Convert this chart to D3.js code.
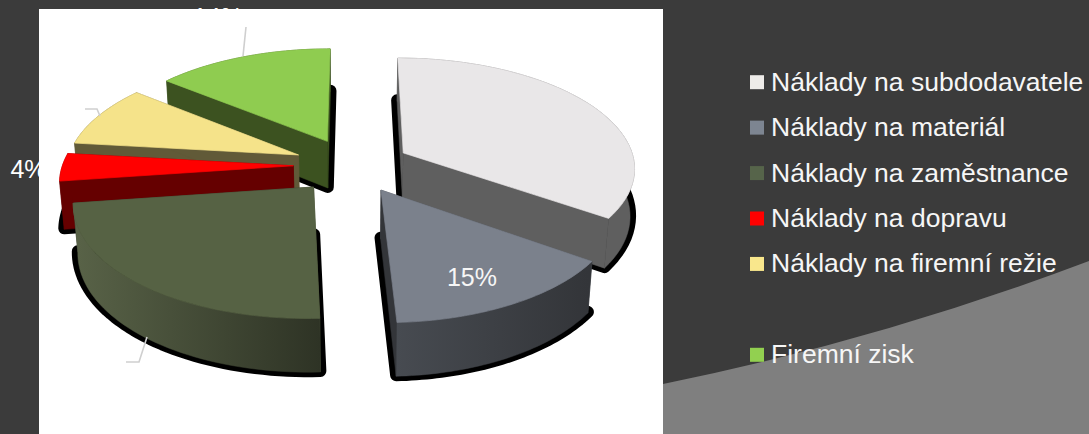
<!DOCTYPE html>
<html>
<head>
<meta charset="utf-8">
<style>
  html, body { margin: 0; padding: 0; background: #3b3b3b; overflow: hidden; }
  text { font-family: "Liberation Sans", Arial, sans-serif; fill: #f6f6f6; }
</style>
<script src="https://cdn.jsdelivr.net/npm/d3@7"></script>
</head>
<body>
<svg id="chart" width="1089" height="434"></svg>
<script>
var categories = ["Náklady na subdodavatele", "Náklady na materiál", "Náklady na zaměstnance",
                  "Náklady na dopravu", "Náklady na firemní režie", "Firemní zisk"];
var values     = [34.7, 14.6, 23.5, 4.0, 9.0, 14.2];
var legendRows = [0, 1, 2, 3, 4, 6];   // the source legend has an empty row before the last one

var topColors   = ["#e9e7e8", "#7b818c", "#566244", "#ff0000", "#f5e38a", "#8fcc50"];
var swatches    = ["#eeece9", "#7d8591", "#56644a", "#ff0000", "#f9e78c", "#92d050"];
var wallLeft    = ["#5f5f5f", "#474b51", "#586247", "#650000", "#615a38", "#3c5220"];
var wallRight   = ["#5f5f5f", "#333539", "#2e3325", "#650000", "#615a38", "#3c5220"];
var drawOrder   = [5, 4, 3, 2, 0, 1];  // far to near

var svg = d3.select("#chart");

function percent(v) { return Math.round(v) + "%"; }

// background curve, white plot area
svg.append("path")
  .attr("d", "M663,384 Q880,340 1089,261 L1089,434 L663,434 Z")
  .attr("fill", "#7f7f7f");

svg.append("rect").attr("x", 39).attr("y", 9).attr("width", 624).attr("height", 425).attr("fill", "#fff");

// perspective of the pie plane
var radiusX = 228, radiusZ = 0.1215, explodeX = 57.6, explodeZ = 0.0304, originX = -1, originZ = 0.0174;
var thickness = 47;
var radiusFit = [1, 0.99, 1, 0.995, 1, 0.995];  // the slices do not sit quite on one ellipse

function project(x, z, down) {
  var s  = 1 / (1 - z);
  var px = 353 + x * s;
  var py = -720 + 870 * s;
  if (down) {
    var h = thickness * Math.pow(s, 0.75);
    px += (353 - px) * h / 3000;
    py += h;
  }
  return [px, py];
}

var pie = d3.pie().sort(null).value(function (d) { return d; });
var arcs = pie(values);

function point(d, r, a, down) {
  var mid = (d.startAngle + d.endAngle) / 2;
  var x = originX + explodeX * Math.sin(mid) + radiusX * radiusFit[d.index] * r * Math.sin(a);
  var z = originZ - explodeZ * Math.cos(mid) - radiusZ * r * Math.cos(a);
  return project(x, z, down);
}

function rim(d, down) {
  var n = 48;
  return d3.range(n + 1).map(function (i) {
    return point(d, 1, d.startAngle + (d.endAngle - d.startAngle) * i / n, down);
  });
}

var line = d3.line();
function outline(d, down) {
  return line([point(d, 0, 0, down)].concat(rim(d, down))) + "Z";
}

// gradients for the curved walls
var defs = svg.append("defs");
arcs.forEach(function (d, i) {
  var xs = rim(d, true).map(function (p) { return p[0]; });
  var g = defs.append("linearGradient").attr("id", "wall" + i)
    .attr("gradientUnits", "userSpaceOnUse")
    .attr("x1", d3.min(xs)).attr("x2", d3.max(xs)).attr("y1", 0).attr("y2", 0);
  g.append("stop").attr("offset", 0).attr("stop-color", wallLeft[i]);
  g.append("stop").attr("offset", 1).attr("stop-color", wallRight[i]);
});

// black shadows under every slice
svg.append("g").attr("transform", "translate(0,-1)")
  .selectAll("path").data(arcs).enter().append("path")
  .attr("d", function (d) { return outline(d, true); })
  .attr("fill", "#000").attr("stroke", "#000")
  .attr("stroke-width", 12).attr("stroke-linejoin", "round");

var slices = svg.selectAll(".slice")
  .data(drawOrder.map(function (i) { return arcs[i]; }))
  .enter().append("g").attr("class", "slice");

slices.each(function (d) {
  var i = d.index, g = d3.select(this);
  var top = rim(d, false), bottom = rim(d, true);
  var apexTop = point(d, 0, 0, false), apexBottom = point(d, 0, 0, true);

  // the two cut faces
  g.append("path").attr("fill", wallLeft[i]).attr("stroke", wallLeft[i]).attr("stroke-width", 0.5)
    .attr("d", line([apexTop, top[0], bottom[0], apexBottom]) + "Z");
  g.append("path").attr("fill", wallRight[i]).attr("stroke", wallRight[i]).attr("stroke-width", 0.5)
    .attr("d", line([apexTop, top[top.length - 1], bottom[bottom.length - 1], apexBottom]) + "Z");
  // curved wall
  g.append("path").attr("fill", "url(#wall" + i + ")").attr("stroke", "url(#wall" + i + ")").attr("stroke-width", 0.5)
    .attr("d", line(top.concat(bottom.slice().reverse())) + "Z");
  // top face, stroked so the wall behind does not bleed through the edge
  g.append("path").attr("fill", topColors[i]).attr("stroke", topColors[i]).attr("stroke-width", 0.7)
    .attr("d", outline(d, false));
});

// leader lines
var leaders = [
  [[246, 27], [243, 56]],
  [[85, 109], [97, 109], [100, 116]],
  [[126, 362], [139, 362], [147, 337]]
];
svg.selectAll(".leader").data(leaders).enter().append("path")
  .attr("class", "leader")
  .attr("d", function (d) { return line(d); })
  .attr("fill", "none").attr("stroke", "#cfcfcf").attr("stroke-width", 1.6);

// data labels, white like the plot so only the parts over the dark background show
svg.append("text").attr("x", 218).attr("y", 26).attr("text-anchor", "middle")
  .style("font-size", "25px").style("fill", "#fff").text(percent(values[5]));
svg.append("text").attr("x", 28.5).attr("y", 178).attr("text-anchor", "middle")
  .style("font-size", "25px").style("fill", "#fff").text(percent(values[3]));
svg.append("text").attr("x", 472).attr("y", 286).attr("text-anchor", "middle")
  .style("font-size", "25px").text(percent(values[1]));

// legend
var rowY = d3.scaleLinear().domain([0, 6]).range([90.7, 363.3]);
var legend = svg.selectAll(".legend").data(categories).enter().append("g").attr("class", "legend")
  .attr("transform", function (d, i) { return "translate(750," + rowY(legendRows[i]) + ")"; });
legend.append("rect").attr("x", 0).attr("y", -15.5).attr("width", 14).attr("height", 14)
  .attr("fill", function (d, i) { return swatches[i]; });
legend.append("text").attr("x", 21).attr("y", 0)
  .style("font-size", "26.5px").text(function (d) { return d; });
</script>
</body>
</html>
